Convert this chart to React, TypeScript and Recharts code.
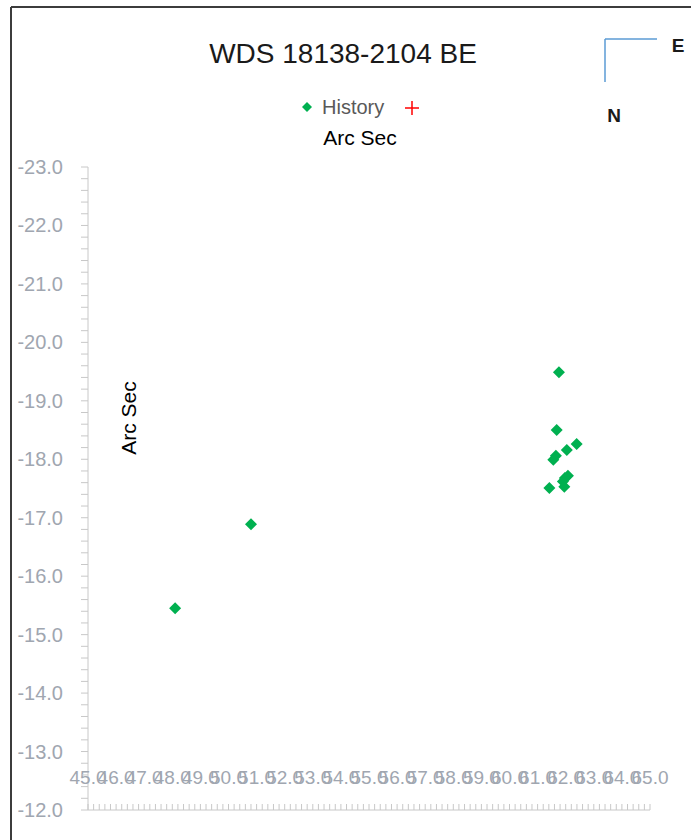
import React from "react";
import { ScatterChart, Scatter, XAxis, YAxis, Customized } from "recharts";

const TITLE = "WDS 18138-2104 BE";
const SERIES_NAME = "History";
const AXIS_TITLE = "Arc Sec";

const historyX = [48.10, 50.80, 61.76, 61.68, 62.39, 62.04, 61.65, 61.56, 61.97, 62.08, 61.90, 61.95, 61.42];
const historyY = [-15.45, -16.89, -19.49, -18.50, -18.26, -18.16, -18.06, -17.99, -17.68, -17.72, -17.62, -17.53, -17.51];

const X_MIN = 45;
const X_MAX = 65;
const Y_MIN = -23;
const Y_MAX = -12;
const MINOR_STEP = 0.2;

const buildTicks = (a: number, b: number, s: number) => {
  const out: number[] = [];
  const n = Math.round((b - a) / s);
  for (let i = 0; i <= n; i++) out.push(Math.round((a + i * s) * 10) / 10);
  return out;
};
const xTicks = buildTicks(X_MIN, X_MAX, MINOR_STEP);
const yTicks = buildTicks(Y_MIN, Y_MAX, MINOR_STEP);

const data = historyX.map((x, i) => ({ x, y: historyY[i] }));

const isMajor = (v: number) => Math.abs(v - Math.round(v)) < 1e-6;
const LABEL_COLOR = "#a0a6b0";
const AXIS_COLOR = "#c8c8c8";
const FONT = "'Liberation Sans', Arial, sans-serif";

const XTick = (props: any) => {
  const { x, y, payload } = props;
  const v = payload.value as number;
  return (
    <g>
      <line x1={x} x2={x} y1={y} y2={y - 6} stroke={AXIS_COLOR} strokeWidth={1} />
      {isMajor(v) && (
        <text x={x} y={y - 26} textAnchor="middle" fill={LABEL_COLOR} fontSize={19} fontFamily={FONT}>
          {v.toFixed(1)}
        </text>
      )}
    </g>
  );
};

const YTick = (props: any) => {
  const { x, y, payload } = props;
  const v = payload.value as number;
  return (
    <g>
      <line x1={x} x2={x - 7} y1={y} y2={y} stroke={AXIS_COLOR} strokeWidth={1} />
      {isMajor(v) && (
        <text x={x - 25} y={y + 7} textAnchor="end" fill={LABEL_COLOR} fontSize={20} fontFamily={FONT}>
          {v.toFixed(1)}
        </text>
      )}
    </g>
  );
};

const Diamond = (props: any) => {
  const { cx, cy } = props;
  const r = 6;
  return (
    <polygon
      points={`${cx},${cy - r} ${cx + r},${cy} ${cx},${cy + r} ${cx - r},${cy}`}
      fill="#00b050"
    />
  );
};

const Decorations = () => (
  <g fontFamily={FONT}>
    <line x1={11} y1={7} x2={691} y2={7} stroke="#3c3c3c" strokeWidth={2} />
    <line x1={11} y1={7} x2={11} y2={840} stroke="#3c3c3c" strokeWidth={2} />
    <text x={343} y={63} textAnchor="middle" fontSize={28} fill="#1a1a1a">{TITLE}</text>
    <polygon points="307,102 312,107 307,112 302,107" fill="#00b050" />
    <text x={322} y={114} fontSize={20} fill="#595959">{SERIES_NAME}</text>
    <line x1={405} y1={108} x2={419} y2={108} stroke="#ff0000" strokeWidth={1.5} />
    <line x1={412} y1={101} x2={412} y2={115} stroke="#ff0000" strokeWidth={1.5} />
    <text x={360} y={145} textAnchor="middle" fontSize={21} fill="#000">{AXIS_TITLE}</text>
    <text
      x={136}
      y={418}
      textAnchor="middle"
      fontSize={21}
      fill="#000"
      transform="rotate(-90 136 418)"
    >
      {AXIS_TITLE}
    </text>
    <line x1={605} y1={39} x2={657} y2={39} stroke="#5b9bd5" strokeWidth={1.5} />
    <line x1={605} y1={39} x2={605} y2={82} stroke="#5b9bd5" strokeWidth={1.5} />
    <text x={678} y={52} textAnchor="middle" fontSize={19} fontWeight="bold" fill="#1a1a1a">E</text>
    <text x={614} y={122} textAnchor="middle" fontSize={19} fontWeight="bold" fill="#1a1a1a">N</text>
  </g>
);

export default function App() {
  return (
    <div style={{ position: "absolute", left: 0, top: 0, background: "#fff" }}>
      <ScatterChart width={691} height={840} margin={{ top: 167, right: 41, bottom: 29, left: 0 }}>
        <XAxis
          type="number"
          dataKey="x"
          domain={[X_MIN, X_MAX]}
          ticks={xTicks}
          interval={0}
          tick={<XTick />}
          tickLine={false}
          tickSize={0}
          tickMargin={0}
          height={1}
          stroke={AXIS_COLOR}
          allowDataOverflow
        />
        <YAxis
          type="number"
          dataKey="y"
          domain={[Y_MIN, Y_MAX]}
          reversed
          ticks={yTicks}
          interval={0}
          tick={<YTick />}
          tickLine={false}
          tickSize={0}
          tickMargin={0}
          width={88}
          stroke={AXIS_COLOR}
          allowDataOverflow
        />
        <Scatter name={SERIES_NAME} data={data} shape={<Diamond />} isAnimationActive={false} />
        <Customized component={<Decorations />} />
      </ScatterChart>
    </div>
  );
}
